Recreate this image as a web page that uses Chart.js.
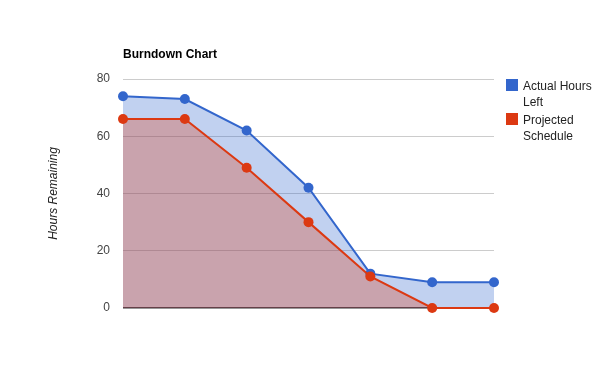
<!DOCTYPE html>
<html>
<head>
<meta charset="utf-8">
<script src="https://cdn.jsdelivr.net/npm/chart.js@4"></script>
<style>
  html, body { margin: 0; padding: 0; background: #fff; }
  #wrap { position: relative; width: 600px; height: 371px; }
  #legend { position: absolute; left: 506px; top: 78px; font: 12px Arial, "Liberation Sans", sans-serif; color: #222; }
  .li { position: relative; padding-left: 17px; width: 80px; line-height: 16px; margin-bottom: 2px; }
  .sw { position: absolute; left: 0; top: 1px; width: 12px; height: 12px; }
</style>
</head>
<body>
<div id="wrap">
  <canvas id="c" width="600" height="371"></canvas>
  <div id="legend"></div>
</div>
<script>
const categories = ["1", "2", "3", "4", "5", "6", "7"];
const seriesNames = ["Actual Hours Left", "Projected Schedule"];
const actualHours = [74, 73, 62, 42, 12, 9, 9];
const projectedHours = [66, 66, 49, 30, 11, 0, 0];
const yTicks = [0, 20, 40, 60, 80];
const titleText = "Burndown Chart";
const yTitle = "Hours Remaining";

const colors = ["#3366cc", "#dc3912"];
const fills = ["rgba(51,102,204,0.3)", "rgba(220,57,18,0.3)"];
const seriesValues = [actualHours, projectedHours];

const datasets = seriesValues.map((vals, i) => ({
  label: seriesNames[i],
  data: vals,
  borderColor: colors[i],
  backgroundColor: fills[i],
  pointBackgroundColor: colors[i],
  pointBorderColor: colors[i],
  pointRadius: 5,
  pointBorderWidth: 0,
  borderWidth: 2,
  fill: 'origin',
  tension: 0,
  clip: false,
  order: 2 - i
}));

new Chart(document.getElementById('c'), {
  type: 'line',
  data: { labels: categories, datasets },
  options: {
    responsive: false,
    animation: false,
    events: [],
    layout: { padding: { left: 0, right: 106, top: 40, bottom: 63 } },
    plugins: {
      legend: { display: false },
      tooltip: { enabled: false },
      title: {
        display: true,
        text: titleText,
        align: 'start',
        fullSize: false,
        color: '#000',
        font: { family: 'Arial, "Liberation Sans", sans-serif', size: 12, weight: 'bold', lineHeight: 1.2 },
        padding: { top: 7, bottom: 17.6 }
      }
    },
    scales: {
      x: { display: false, offset: false },
      y: {
        min: 0, max: 80,
        afterFit: (s) => { s.width = 123; },
        afterBuildTicks: (s) => { s.ticks = yTicks.map(v => ({ value: v })); },
        border: { display: false },
        grid: {
          drawTicks: false,
          color: (ctx) => ctx.tick && ctx.tick.value === 0 ? '#333' : '#ccc',
          lineWidth: (ctx) => ctx.tick && ctx.tick.value === 0 ? 1.5 : 1
        },
        ticks: {
          padding: 13,
          color: '#444',
          font: { family: 'Arial, "Liberation Sans", sans-serif', size: 12 }
        },
        title: {
          display: true,
          text: yTitle,
          color: '#222',
          font: { family: 'Arial, "Liberation Sans", sans-serif', size: 12, style: 'italic', lineHeight: 1.2 },
          padding: { top: 46, bottom: 0 }
        }
      }
    }
  }
});

const leg = document.getElementById('legend');
seriesNames.forEach((n, i) => {
  const d = document.createElement('div');
  d.className = 'li';
  const sw = document.createElement('span');
  sw.className = 'sw';
  sw.style.background = colors[i];
  d.appendChild(sw);
  d.appendChild(document.createTextNode(n));
  leg.appendChild(d);
});
</script>
</body>
</html>
